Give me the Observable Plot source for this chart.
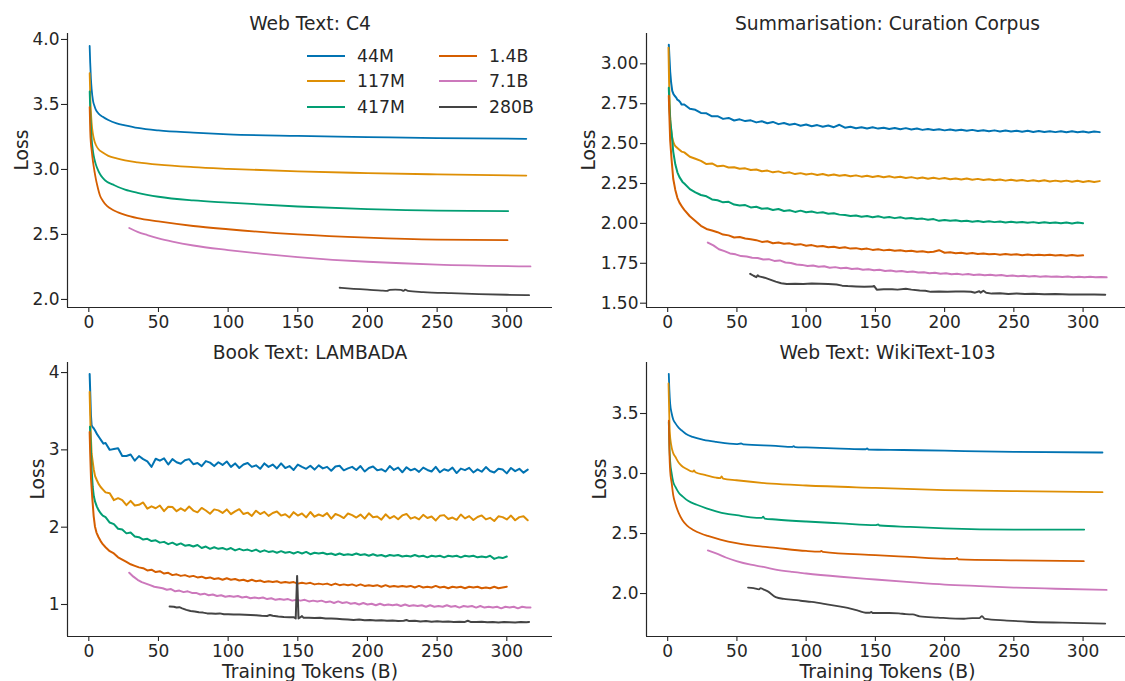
<!DOCTYPE html>
<html><head><meta charset="utf-8">
<script src="https://cdn.jsdelivr.net/npm/d3@7"></script>
<script src="https://cdn.jsdelivr.net/npm/@observablehq/plot@0.6"></script>
<style>
html,body{margin:0;padding:0;background:#fff;}
#fig{position:relative;width:1125px;height:681px;overflow:hidden;font-family:"DejaVu Sans",sans-serif;color:#262626;background:#fff;}
#fig svg{position:absolute;}
#legend{position:absolute;left:307px;top:43px;display:grid;grid-auto-flow:column;grid-template-rows:repeat(3,25.5px);grid-template-columns:132px auto;font-size:17.3px;}
#legend .it{display:flex;align-items:center;}
#legend .sw{width:38px;height:2px;margin-right:12px;}
</style></head><body><div id="fig"></div>
<script>
// ---------- categories / colours / ticks ----------
const models = ["44M","117M","417M","1.4B","7.1B","280B"];
const colors = ["#0173b2","#de8f05","#029e73","#d55e00","#cc78bc","#444444"];
const xTicks = [0,50,100,150,200,250,300];
const xDomain = [-15.3, 332.8];

// ---------- Web Text: C4 ----------
const c4_44M = [[0.6,3.95],[1,3.82],[1.5,3.70],[2,3.62],[3,3.53],[4,3.49],[5,3.46],[7,3.43],[10,3.405],[14,3.38],[20,3.355],[26,3.34],[35,3.32],[50,3.30],[75,3.283],[100,3.27],[150,3.258],[200,3.249],[250,3.241],[314,3.236]];
const c4_117M = [[0.6,3.74],[1,3.58],[1.5,3.45],[2,3.36],[3,3.27],[4,3.22],[5,3.19],[7,3.155],[10,3.13],[14,3.105],[20,3.085],[26,3.07],[35,3.055],[50,3.037],[75,3.018],[100,3.005],[150,2.985],[200,2.972],[250,2.962],[314,2.953]];
const c4_417M = [[0.6,3.60],[1,3.45],[1.5,3.33],[2,3.24],[3,3.14],[4,3.08],[5,3.04],[6,3.01],[8,2.965],[10,2.935],[13,2.905],[17,2.885],[21,2.865],[26,2.845],[35,2.82],[50,2.79],[75,2.762],[100,2.745],[150,2.715],[200,2.695],[250,2.683],[301,2.68]];
const c4_1p4B = [[0.6,3.48],[1,3.30],[1.5,3.20],[2,3.15],[3,3.06],[4,2.99],[5,2.93],[6,2.88],[8,2.80],[10,2.76],[13,2.72],[17,2.69],[21,2.67],[26,2.65],[35,2.625],[50,2.60],[75,2.565],[100,2.54],[150,2.50],[200,2.475],[250,2.46],[300.5,2.456]];
const c4_7p1B = [[29,2.55],[35,2.52],[42,2.495],[50,2.47],[60,2.445],[75,2.415],[100,2.38],[125,2.35],[150,2.325],[175,2.305],[200,2.29],[250,2.268],[317,2.254]];
const c4_280B = [[180,2.09],[190,2.082],[200,2.076],[210,2.068],[214,2.066],[216,2.073],[220,2.075],[224,2.074],[226,2.066],[227,2.076],[229,2.066],[240,2.057],[260,2.048],[280,2.041],[300,2.036],[316,2.033]];

// ---------- Summarisation: Curation Corpus (tails sampled every 4B tokens) ----------
const cc_step = 4;
const cc_44M_head = [[0.8,3.12],[1.2,3.05],[1.8,2.95],[2.5,2.88],[3.3,2.83],[4.2,2.81],[5,2.80],[6,2.79],[7,2.775],[8,2.77],[9,2.76],[10,2.745]];
const cc_44M = [2.745,2.718,2.712,2.692,2.690,2.671,2.672,2.655,2.661,2.645,
 2.652,2.641,2.646,2.633,2.640,2.628,2.636,2.622,2.629,2.618,
 2.624,2.612,2.620,2.609,2.616,2.606,2.613,2.603,2.618,2.600,
 2.606,2.596,2.603,2.595,2.602,2.594,2.600,2.592,2.598,2.590,
 2.597,2.589,2.595,2.586,2.592,2.585,2.590,2.583,2.589,2.582,
 2.587,2.580,2.586,2.579,2.584,2.578,2.583,2.576,2.582,2.576,
 2.580,2.574,2.580,2.573,2.579,2.573,2.578,2.572,2.578,2.571,
 2.577,2.571,2.576,2.570,2.576,2.572];
const cc_117M_head = [[0.6,3.10],[1,2.90],[1.5,2.72],[2,2.62],[3,2.55],[4,2.51],[5,2.49],[6,2.48],[8,2.465],[10,2.45]];
const cc_117M = [2.445,2.418,2.405,2.392,2.372,2.376,2.358,2.362,2.350,2.352,
 2.342,2.345,2.335,2.338,2.327,2.331,2.320,2.326,2.315,2.320,
 2.309,2.315,2.306,2.312,2.303,2.309,2.300,2.306,2.298,2.303,
 2.295,2.301,2.293,2.299,2.291,2.297,2.289,2.295,2.287,2.292,
 2.285,2.290,2.282,2.288,2.280,2.286,2.279,2.284,2.277,2.282,
 2.275,2.281,2.274,2.279,2.272,2.277,2.270,2.275,2.268,2.274,
 2.267,2.272,2.265,2.271,2.264,2.270,2.263,2.268,2.262,2.268,
 2.261,2.267,2.260,2.266,2.259,2.265];
const cc_417M_head = [[0.8,2.85],[1.2,2.75],[1.8,2.65],[2.9,2.56],[4,2.45],[5.5,2.37],[7,2.32],[8.5,2.29],[10.7,2.26]];
const cc_417M = [2.250,2.215,2.195,2.178,2.170,2.150,2.145,2.132,2.135,2.118,
 2.112,2.115,2.100,2.104,2.092,2.095,2.084,2.090,2.078,2.082,
 2.072,2.080,2.070,2.074,2.066,2.070,2.060,2.064,2.055,2.052,
 2.046,2.050,2.042,2.046,2.039,2.045,2.036,2.040,2.033,2.038,
 2.030,2.034,2.027,2.030,2.023,2.027,2.016,2.022,2.016,2.020,
 2.013,2.017,2.011,2.015,2.009,2.013,2.008,2.012,2.006,2.010,
 2.005,2.009,2.004,2.008,2.003,2.007,2.002,2.006,2.001,2.006,
 2.000,2.005,2.001];
const cc_1p4B_head = [[0.8,2.80],[1.2,2.68],[1.8,2.52],[2.9,2.39],[4,2.28],[5.5,2.21],[7,2.16],[8.5,2.13],[10.7,2.10]];
const cc_1p4B = [2.085,2.045,2.015,1.985,1.965,1.955,1.945,1.930,1.925,1.912,
 1.915,1.905,1.900,1.895,1.884,1.888,1.876,1.880,1.872,1.875,
 1.866,1.870,1.860,1.864,1.855,1.858,1.850,1.854,1.846,1.850,
 1.842,1.845,1.838,1.842,1.834,1.838,1.831,1.835,1.828,1.832,
 1.825,1.829,1.822,1.826,1.819,1.822,1.832,1.816,1.819,1.813,
 1.816,1.810,1.814,1.808,1.811,1.806,1.809,1.804,1.808,1.803,
 1.806,1.801,1.805,1.800,1.804,1.800,1.803,1.799,1.802,1.798,
 1.802,1.797,1.800];
const cc_7p1B = [1.880,1.862,1.838,1.826,1.812,1.806,1.795,1.792,1.785,1.783,
 1.774,1.776,1.765,1.768,1.755,1.752,1.742,1.740,1.733,1.736,
 1.728,1.731,1.722,1.726,1.719,1.722,1.714,1.717,1.710,1.713,
 1.706,1.709,1.702,1.705,1.699,1.702,1.695,1.698,1.692,1.694,
 1.688,1.691,1.685,1.688,1.682,1.685,1.679,1.683,1.677,1.680,
 1.675,1.678,1.673,1.676,1.671,1.674,1.669,1.672,1.667,1.670,
 1.666,1.669,1.665,1.668,1.664,1.667,1.663,1.666,1.662,1.665,
 1.662,1.664,1.662];
const cc_280B = [[59.6,1.684],[62,1.672],[64,1.663],[65,1.675],[66,1.668],[70,1.66],[74,1.648],[78,1.635],[82,1.625],[86,1.62],[92,1.622],[98,1.621],[104,1.624],[110,1.622],[116,1.62],[122,1.617],[126,1.61],[130,1.607],[136,1.605],[142,1.603],[148,1.604],[149,1.608],[151,1.585],[156,1.587],[162,1.588],[166,1.585],[172,1.59],[176,1.585],[182,1.58],[186,1.578],[190,1.571],[196,1.574],[202,1.572],[208,1.574],[214,1.573],[219,1.572],[222,1.566],[225,1.575],[226,1.566],[228,1.578],[230,1.565],[234,1.56],[240,1.562],[246,1.558],[252,1.561],[258,1.557],[264,1.559],[272,1.556],[280,1.557],[290,1.555],[300,1.555],[308,1.554],[316,1.553]];

// ---------- Book Text: LAMBADA (tails sampled every 3B tokens) ----------
const lb_step = 3;
const lb_44M_head = [[0.6,3.98],[1,3.75],[1.5,3.45],[2,3.32],[2.5,3.30],[3.5,3.28],[4.5,3.25],[6,3.20],[7.5,3.16],[9,3.12],[10.5,3.08]];
const lb_44M = [3.09,3.00,3.01,3.02,2.92,2.92,2.94,2.86,2.92,2.88,
 2.85,2.78,2.885,2.86,2.89,2.81,2.88,2.84,2.82,2.865,
 2.88,2.815,2.83,2.79,2.855,2.835,2.79,2.84,2.805,2.85,
 2.78,2.825,2.765,2.81,2.83,2.78,2.80,2.755,2.825,2.78,
 2.81,2.76,2.825,2.765,2.79,2.74,2.81,2.78,2.755,2.795,
 2.745,2.80,2.76,2.78,2.73,2.785,2.795,2.735,2.76,2.78,
 2.74,2.79,2.72,2.765,2.785,2.735,2.75,2.72,2.79,2.74,
 2.77,2.71,2.775,2.735,2.755,2.715,2.77,2.74,2.72,2.78,
 2.71,2.75,2.73,2.77,2.70,2.758,2.738,2.768,2.708,2.748,
 2.717,2.777,2.727,2.707,2.756,2.746,2.696,2.766,2.725,2.755,
 2.705,2.745];
const lb_117M_head = [[0.6,3.75],[1,3.45],[1.5,3.15],[2,2.95],[2.6,2.87],[3.5,2.75],[4.5,2.66],[5.7,2.61],[7,2.56],[8.5,2.52],[10,2.49]];
const lb_117M = [2.45,2.44,2.35,2.375,2.35,2.285,2.34,2.28,2.29,2.32,
 2.24,2.27,2.245,2.28,2.207,2.264,2.26,2.207,2.244,2.211,
 2.268,2.215,2.192,2.249,2.216,2.173,2.23,2.217,2.184,2.23,
 2.168,2.205,2.233,2.17,2.188,2.145,2.213,2.17,2.198,2.146,
 2.184,2.202,2.15,2.168,2.126,2.194,2.15,2.178,2.127,2.196,
 2.135,2.164,2.143,2.182,2.111,2.17,2.149,2.118,2.177,2.156,
 2.125,2.163,2.111,2.18,2.129,2.138,2.097,2.166,2.115,2.144,
 2.103,2.152,2.171,2.11,2.13,2.10,2.16,2.119,2.138,2.087,
 2.147,2.156,2.106,2.125,2.095,2.164,2.114,2.143,2.093,2.132,
 2.152,2.101,2.121,2.08,2.14,2.13,2.10,2.15,2.09,2.13,
 2.14,2.09];
const lb_417M_head = [[0.8,3.30],[1.3,3.10],[2,2.75],[2.8,2.52],[3.6,2.40],[4.5,2.33],[5.7,2.27],[7,2.22],[8.5,2.18],[10,2.15]];
const lb_417M = [2.13,2.06,2.04,1.98,1.97,1.92,1.93,1.88,1.87,1.84,
 1.85,1.82,1.83,1.80,1.81,1.78,1.80,1.77,1.79,1.76,
 1.77,1.75,1.77,1.73,1.75,1.72,1.74,1.72,1.73,1.71,
 1.73,1.70,1.72,1.70,1.71,1.69,1.71,1.68,1.70,1.68,
 1.69,1.67,1.69,1.67,1.68,1.66,1.68,1.66,1.68,1.65,
 1.67,1.66,1.67,1.65,1.66,1.64,1.66,1.64,1.65,1.64,
 1.66,1.64,1.65,1.63,1.65,1.63,1.64,1.62,1.64,1.63,
 1.64,1.62,1.63,1.62,1.64,1.62,1.63,1.61,1.63,1.62,
 1.63,1.61,1.63,1.62,1.63,1.61,1.63,1.62,1.63,1.61,
 1.62,1.61,1.63,1.59,1.61,1.60,1.62];
const lb_1p4B_head = [[0.6,3.23],[1,2.95],[1.6,2.62],[2.6,2.35],[3.5,2.14],[4.4,2.01],[5.5,1.93],[7,1.87],[8.5,1.82],[10,1.78]];
const lb_1p4B = [1.74,1.69,1.66,1.61,1.58,1.55,1.52,1.50,1.48,1.47,
 1.44,1.45,1.42,1.43,1.40,1.41,1.38,1.39,1.37,1.38,
 1.36,1.37,1.35,1.36,1.34,1.35,1.33,1.34,1.32,1.34,
 1.32,1.33,1.31,1.32,1.30,1.32,1.30,1.31,1.29,1.30,
 1.29,1.30,1.28,1.29,1.28,1.29,1.27,1.28,1.27,1.28,
 1.26,1.27,1.26,1.27,1.25,1.27,1.25,1.26,1.25,1.26,
 1.24,1.26,1.24,1.25,1.24,1.25,1.23,1.25,1.23,1.24,
 1.23,1.24,1.23,1.24,1.22,1.24,1.22,1.23,1.22,1.24,
 1.22,1.23,1.21,1.23,1.22,1.23,1.21,1.23,1.22,1.23,
 1.21,1.22,1.21,1.23,1.21,1.22,1.23];
const lb_7p1B = [1.41,1.36,1.32,1.29,1.27,1.25,1.23,1.22,1.21,1.19,
 1.20,1.17,1.18,1.16,1.17,1.15,1.15,1.13,1.14,1.12,
 1.13,1.11,1.12,1.10,1.11,1.10,1.11,1.09,1.10,1.08,
 1.09,1.08,1.09,1.07,1.08,1.06,1.07,1.06,1.07,1.05,
 1.06,1.05,1.06,1.04,1.05,1.04,1.05,1.03,1.04,1.02,
 1.04,1.02,1.03,1.01,1.02,1.00,1.02,1.00,1.01,0.99,
 1.01,0.99,1.00,0.99,1.00,0.98,1.00,0.98,0.99,0.98,
 0.99,0.97,0.99,0.97,0.98,0.97,0.99,0.97,0.98,0.96,
 0.98,0.97,0.98,0.96,0.98,0.96,0.97,0.96,0.97,0.95,
 0.97,0.96,0.97,0.95,0.97,0.96,0.96];
const lb_280B = [[58,0.975],[61,0.97],[63,0.96],[65,0.965],[67,0.95],[70,0.93],[73,0.915],[76,0.91],[79,0.9],[82,0.895],[85,0.885],[88,0.885],[91,0.88],[94,0.885],[97,0.875],[100,0.875],[104,0.87],[108,0.87],[112,0.868],[116,0.865],[120,0.86],[124,0.855],[128,0.852],[130,0.865],[132,0.855],[136,0.845],[140,0.838],[144,0.835],[147,0.835],[148.5,0.82],[149.5,1.37],[150.5,0.82],[152,0.835],[153,0.85],[154,0.83],[158,0.83],[162,0.825],[166,0.828],[170,0.82],[174,0.818],[178,0.815],[182,0.81],[186,0.805],[190,0.8],[194,0.805],[198,0.795],[202,0.8],[206,0.792],[210,0.795],[214,0.79],[218,0.793],[222,0.785],[226,0.79],[228,0.8],[230,0.785],[234,0.79],[238,0.78],[242,0.785],[246,0.778],[250,0.782],[254,0.776],[258,0.78],[262,0.775],[266,0.778],[270,0.775],[272,0.79],[274,0.775],[278,0.772],[282,0.777],[286,0.77],[290,0.775],[294,0.768],[298,0.774],[302,0.77],[306,0.766],[310,0.775],[314,0.77],[316,0.775]];

// ---------- Web Text: WikiText-103 ----------
const wt_44M = [[0.8,3.83],[1.2,3.70],[1.8,3.58],[2.9,3.50],[4,3.45],[5.5,3.42],[8,3.38],[10,3.36],[13.3,3.33],[18,3.305],[26,3.28],[35,3.263],[49.7,3.245],[53,3.25],[55,3.242],[78,3.23],[90,3.222],[91,3.228],[92,3.22],[100,3.217],[125,3.208],[143,3.202],[144,3.21],[145,3.2],[170,3.196],[200,3.19],[250,3.18],[314,3.175]];
const wt_117M = [[0.6,3.75],[1,3.55],[1.5,3.35],[2.5,3.24],[4,3.17],[5.5,3.14],[8,3.09],[10,3.065],[13.3,3.04],[18,3.015],[19,3.025],[20,3.01],[26,2.99],[35,2.965],[38,2.962],[39,2.975],[40,2.958],[49.7,2.944],[75,2.915],[100,2.90],[150,2.88],[200,2.862],[250,2.853],[314,2.845]];
const wt_417M = [[0.8,3.43],[1.2,3.25],[1.8,3.10],[2.9,3.0],[4,2.93],[5.5,2.89],[8,2.84],[10.7,2.81],[15,2.77],[21,2.74],[28,2.71],[35,2.685],[42,2.665],[49.7,2.653],[60,2.635],[68,2.63],[69,2.64],[70,2.625],[78,2.617],[100,2.60],[125,2.585],[150,2.57],[152,2.575],[153,2.567],[175,2.555],[200,2.543],[250,2.533],[300.8,2.533]];
const wt_1p4B = [[0.8,3.44],[1.2,3.2],[1.8,3.02],[2.9,2.92],[4,2.82],[5.5,2.75],[8,2.67],[10.7,2.61],[14,2.565],[18.5,2.53],[24,2.50],[29,2.48],[38,2.45],[49.7,2.42],[65,2.395],[78,2.38],[100,2.355],[110,2.35],[111,2.356],[112,2.347],[150,2.32],[175,2.305],[200,2.29],[208,2.288],[209,2.296],[210,2.285],[250,2.277],[300.5,2.27]];
const wt_7p1B = [[29,2.36],[35,2.335],[42,2.30],[49.7,2.27],[60,2.24],[70,2.22],[78,2.20],[90,2.18],[100,2.167],[125,2.14],[150,2.117],[175,2.095],[200,2.075],[225,2.062],[250,2.05],[280,2.04],[317,2.03]];
const wt_280B = [[58,2.05],[62,2.045],[66,2.035],[67,2.045],[69,2.035],[72,2.02],[78,1.97],[84,1.955],[89,1.95],[96,1.94],[104,1.93],[115,1.91],[125,1.89],[132,1.875],[138,1.855],[143,1.84],[146,1.84],[147,1.848],[148,1.838],[160,1.838],[167,1.835],[172,1.828],[177,1.826],[182,1.81],[195,1.80],[214,1.79],[220,1.795],[225,1.795],[227,1.812],[229,1.788],[245,1.775],[260,1.765],[285,1.757],[316,1.75]];

// ---------- build rows ----------
const withTail = (head, x0, step, ys) => head.concat(ys.map((y, i) => [x0 + i * step, y]));
const rowsOf = (series) => series.flatMap((pts, k) => pts.map(([x, y]) => ({x, y, model: models[k]})));

const c4Rows = rowsOf([c4_44M, c4_117M, c4_417M, c4_1p4B, c4_7p1B, c4_280B]);
const ccRows = rowsOf([
  withTail(cc_44M_head, 12, cc_step, cc_44M),
  withTail(cc_117M_head, 12, cc_step, cc_117M),
  withTail(cc_417M_head, 12, cc_step, cc_417M),
  withTail(cc_1p4B_head, 12, cc_step, cc_1p4B),
  withTail([], 29, cc_step, cc_7p1B),
  cc_280B]);
const lbRows = rowsOf([
  withTail(lb_44M_head, 12, lb_step, lb_44M),
  withTail(lb_117M_head, 12, lb_step, lb_117M),
  withTail(lb_417M_head, 12, lb_step, lb_417M),
  withTail(lb_1p4B_head, 12, lb_step, lb_1p4B),
  withTail([], 29, lb_step, lb_7p1B),
  lb_280B]);
const wtRows = rowsOf([wt_44M, wt_117M, wt_417M, wt_1p4B, wt_7p1B, wt_280B]);

const ink = "#262626";
function panel(o) {
  const svg = Plot.plot({
    width: o.width, height: o.height,
    marginLeft: o.ml, marginRight: o.mr, marginTop: o.mt, marginBottom: o.mb,
    style: {fontFamily: '"DejaVu Sans", sans-serif', fontSize: "17px", color: ink, background: "transparent", overflow: "visible"},
    x: {domain: xDomain},
    y: {domain: o.yDomain},
    color: {domain: models, range: colors},
    marks: [
      Plot.axisX({ticks: xTicks, tickSize: 5, tickPadding: 3, label: null, stroke: ink, strokeWidth: 1.1}),
      Plot.axisY({ticks: o.yTicks, tickSize: 6, tickPadding: 2, tickFormat: o.fmt, label: null, stroke: ink, strokeWidth: 1.1}),
      Plot.ruleX([xDomain[0]], {stroke: ink, strokeWidth: 1.2}),
      Plot.ruleY([o.yDomain[0]], {stroke: ink, strokeWidth: 1.2}),
      Plot.line(o.rows, {x: "x", y: "y", z: "model", stroke: "model", strokeWidth: o.sw, curve: o.curve}),
      Plot.text([o.title], {frameAnchor: "top", dy: -4, lineAnchor: "bottom", fontSize: 18.7, fill: ink}),
      Plot.text(["Loss"], {frameAnchor: "left", dx: o.lossDx, rotate: -90, lineAnchor: "bottom", fontSize: 18.7, fill: ink}),
      o.xLabel ? Plot.text([o.xLabel], {frameAnchor: "bottom", dy: 41.5, lineAnchor: "bottom", fontSize: 18.7, fill: ink}) : null
    ]
  });
  svg.style.left = o.left + "px";
  svg.style.top = o.top + "px";
  document.getElementById("fig").appendChild(svg);
}

panel({rows: c4Rows, title: "Web Text: C4", left: 0, top: 0, width: 562, height: 340, ml: 67, mr: 10, mt: 33, mb: 33,
  yDomain: [1.938, 4.046], yTicks: [2.0, 2.5, 3.0, 3.5, 4.0], fmt: d3.format(".1f"), lossDx: -40, curve: "monotone-x", sw: 1.8});
panel({rows: ccRows, title: "Summarisation: Curation Corpus", left: 562, top: 0, width: 576, height: 340, ml: 84, mr: 10, mt: 33, mb: 33,
  yDomain: [1.473, 3.19], yTicks: [1.5, 1.75, 2.0, 2.25, 2.5, 2.75, 3.0], fmt: d3.format(".2f"), lossDx: -52, curve: "linear", sw: 2});
panel({rows: lbRows, title: "Book Text: LAMBADA", left: 0, top: 340, width: 562, height: 341, ml: 67, mr: 10, mt: 22, mb: 45,
  yDomain: [0.586, 4.13], yTicks: [1, 2, 3, 4], fmt: d3.format("d"), lossDx: -23.5, curve: "linear", sw: 2, xLabel: "Training Tokens (B)"});
panel({rows: wtRows, title: "Web Text: WikiText-103", left: 562, top: 340, width: 576, height: 341, ml: 84, mr: 10, mt: 22, mb: 45,
  yDomain: [1.642, 3.925], yTicks: [2.0, 2.5, 3.0, 3.5], fmt: d3.format(".1f"), lossDx: -41, curve: "monotone-x", sw: 1.8, xLabel: "Training Tokens (B)"});

// legend (column-major, as in the reference)
const legend = document.createElement("div");
legend.id = "legend";
models.forEach((m, i) => {
  const it = document.createElement("div");
  it.className = "it";
  it.innerHTML = `<span class="sw" style="background:${colors[i]}"></span><span>${m}</span>`;
  legend.appendChild(it);
});
document.getElementById("fig").appendChild(legend);
</script></body></html>
